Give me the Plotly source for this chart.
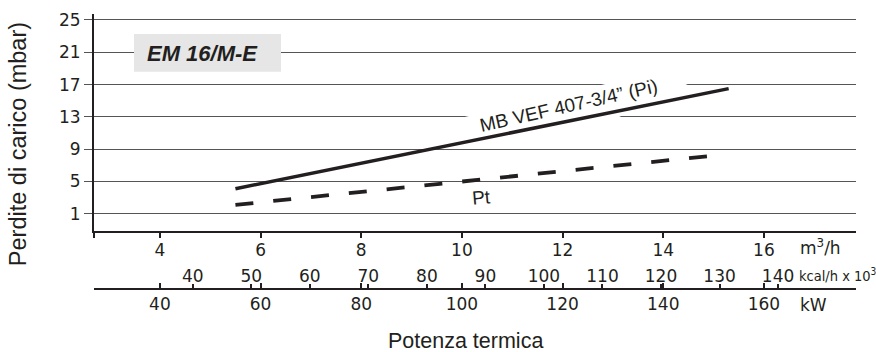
import plotly.graph_objects as go

# Pressure drop across the gas train vs. thermal power
pi_power_kw = [55, 153]       # MB VEF 407-3/4" (Pi) range, kW
pi_mbar = [4.1, 16.5]
pt_power_kw = [55, 150]       # Pt range, kW
pt_mbar = [2.1, 8.2]

# Axis ticks
mbar_ticks = [1, 5, 9, 13, 17, 21, 25]
m3h_ticks = [4, 6, 8, 10, 12, 14, 16]
kw_ticks = [40, 60, 80, 100, 120, 140, 160]
kcal_ticks = [40, 50, 60, 70, 80, 90, 100, 110, 120, 130, 140]   # kcal/h x 10^3

KW_PER_M3H = 10.0      # natural gas, kW per m3/h
KW_PER_KCAL = 1.163    # kW per 1000 kcal/h

x_range = [26.9, 178.3]
y_range = [-1.13, 25.74]

INK = "#231f20"
TICK_FONT = dict(family="DejaVu Sans", size=17, color=INK)
TEXT_FONT = "Liberation Sans, Arial, sans-serif"

W, H = 876, 352
M_L, M_R, M_T, M_B = 94, 20, 14, 63.3
plot_w = W - M_L - M_R
plot_h = H - M_T - M_B
y_dom_bottom = (H - M_B - 230.7) / plot_h


def px(xp):
    return (xp - M_L) / plot_w


def py(yp):
    return (H - M_B - yp) / plot_h


fig = go.Figure()

# white patch hiding the gridlines behind the curve label (drawn under the curves)
fig.add_trace(go.Scatter(
    x=[97.2, 129.6, 146.3, 131.5, 97.2], y=[12.5, 12.5, 17.5, 17.5, 12.5],
    mode="lines", fill="toself", fillcolor="white", line=dict(width=0, color="white"),
    showlegend=False, hoverinfo="skip"))

fig.add_trace(go.Scatter(
    x=pi_power_kw, y=pi_mbar, mode="lines",
    line=dict(color=INK, width=3.5), showlegend=False, hoverinfo="skip"))
fig.add_trace(go.Scatter(
    x=pt_power_kw, y=pt_mbar, mode="lines",
    line=dict(color=INK, width=3.8, dash="18px,20px"), showlegend=False, hoverinfo="skip"))

# empty traces so the kW and kcal/h scales get their own axes
fig.add_trace(go.Scatter(x=[], y=[], xaxis="x2", yaxis="y", showlegend=False, hoverinfo="skip"))
fig.add_trace(go.Scatter(x=[], y=[], xaxis="x3", yaxis="y", showlegend=False, hoverinfo="skip"))

fig.update_layout(
    # m3/h scale on the plot's bottom edge
    xaxis=dict(
        range=x_range, anchor="y", showgrid=False, zeroline=False,
        tickvals=[x_range[0] + 0.05] + [v * KW_PER_M3H for v in m3h_ticks],
        ticktext=[""] + [str(v) for v in m3h_ticks],
        ticks="outside", ticklen=5, tickwidth=1.5, tickcolor=INK,
        showline=True, linewidth=2, linecolor=INK, tickfont=TICK_FONT,
        ticklabelstandoff=-2,
    ),
    # kW scale on the lower line
    xaxis2=dict(
        range=x_range, overlaying="x", anchor="free", position=0, side="bottom",
        showgrid=False, zeroline=False,
        tickvals=kw_ticks, ticktext=[str(v) for v in kw_ticks],
        ticks="inside", ticklen=5, tickwidth=1.5, tickcolor=INK,
        showline=True, linewidth=2, linecolor=INK, tickfont=TICK_FONT,
    ),
    # kcal/h scale, labels above the lower line
    xaxis3=dict(
        range=x_range, overlaying="x", anchor="free", position=0, side="top",
        showgrid=False, zeroline=False,
        tickvals=[v * KW_PER_KCAL for v in kcal_ticks], ticktext=[str(v) for v in kcal_ticks],
        ticks="outside", ticklen=5, tickwidth=1.5, tickcolor=INK,
        showline=False, tickfont=TICK_FONT, ticklabelstandoff=-5,
    ),
    yaxis=dict(
        range=y_range, domain=[y_dom_bottom, 1], zeroline=False,
        tickvals=mbar_ticks, ticktext=[str(v) for v in mbar_ticks],
        showgrid=True, gridcolor="#555555", gridwidth=1,
        ticks="outside", ticklen=8, tickwidth=1, tickcolor="#555555",
        showline=True, linewidth=2, linecolor=INK, tickfont=TICK_FONT,
    ),
)

# model plate
fig.add_shape(
    type="rect", xref="paper", yref="paper", layer="above",
    x0=px(134), x1=px(281), y0=py(71.7), y1=py(34),
    fillcolor="#e6e6e6", line=dict(width=0))

annotations = [
    dict(text="<b><i>EM 16/M-E</i></b>", xref="paper", yref="paper",
         x=px(202), y=py(53), font=dict(family=TEXT_FONT, size=22, color=INK)),
    dict(text="MB VEF 407-3/4\u201d (Pi)", xref="x", yref="y", x=121.3, y=14.35,
         textangle=-12.7, font=dict(family=TEXT_FONT, size=19, color=INK)),
    dict(text="Pt", xref="x", yref="y", x=103.8, y=3.05,
         textangle=-5, font=dict(family=TEXT_FONT, size=19, color=INK)),
    dict(text="Perdite di carico (mbar)", xref="paper", yref="paper",
         x=px(18), y=py(144), textangle=-90,
         font=dict(family=TEXT_FONT, size=23.5, color=INK)),
    dict(text="Potenza termica", xref="paper", yref="paper",
         x=px(465.5), y=py(340.5), borderpad=0,
         font=dict(family=TEXT_FONT, size=21.5, color=INK)),
    dict(text="m<sup>3</sup>/h", xref="paper", yref="paper", x=px(798), y=py(247),
         xanchor="left", font=dict(family="DejaVu Sans", size=17, color=INK)),
    dict(text="kcal/h x 10<sup>3</sup>", xref="paper", yref="paper", x=px(797), y=py(275),
         xanchor="left", font=dict(family="DejaVu Sans Condensed, DejaVu Sans", size=14.5, color=INK)),
    dict(text="kW", xref="paper", yref="paper", x=px(798), y=py(305),
         xanchor="left", font=dict(family="DejaVu Sans", size=17, color=INK)),
]
for a in annotations:
    a.setdefault("xanchor", "center")
    a["yanchor"] = "middle"
    a["showarrow"] = False
    fig.add_annotation(**a)

fig.update_layout(
    width=W, height=H,
    margin=dict(l=M_L, r=M_R, t=M_T, b=M_B, pad=0, autoexpand=False),
    paper_bgcolor="white", plot_bgcolor="white",
    showlegend=False,
)

fig.write_html("out.html")
